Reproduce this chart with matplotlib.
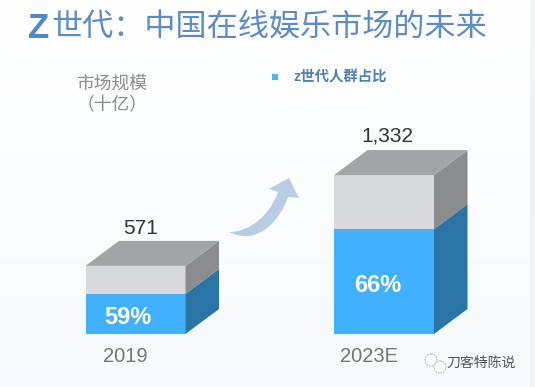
import matplotlib
matplotlib.use('Agg')
import matplotlib.pyplot as plt
import numpy as np
from matplotlib.patches import Polygon, PathPatch, Circle, Rectangle
from matplotlib.path import Path

plt.rcParams['font.family'] = ['Liberation Sans', 'Noto Sans CJK SC', 'DejaVu Sans']

# chart data
years = ['2019', '2023E']
market_size = [571, 1332]
gen_z_share = [59, 66]
size_labels = ['571', '1,332']
share_labels = ['59%', '66%']

W, H = 535, 387
BASE = 334          # pixel row of the bar bottoms
PX_PER_UNIT = 0.1193
bar_left = [85.5, 334]
BAR_W = 100
DX, DY = 33.5, 25 / PX_PER_UNIT

fig = plt.figure(figsize=(W / 100, H / 100), dpi=100)

# background, very pale blue towards the bottom
bg = fig.add_axes([0, 0, 1, 1])
bg.set_xlim(0, W)
bg.set_ylim(H, 0)
bg.axis('off')
grad = np.linspace(0, 1, 64).reshape(-1, 1, 1)
img = np.array([1, 1, 1]) * (1 - grad) + np.array([0.965, 0.98, 0.995]) * grad
bg.imshow(img, extent=[0, W, H, 0], aspect='auto', zorder=0)
bg.add_patch(Rectangle((530, 0), 5, H, color='#f0f2f6', lw=0, zorder=1))

# bars, y axis is in market size units with the base at pixel row 334
ax = fig.add_axes([0, 0, 1, 1])
ax.set_xlim(0, W)
ax.set_ylim(-(H - BASE) / PX_PER_UNIT, BASE / PX_PER_UNIT)
ax.axis('off')
ax.patch.set_alpha(0)

for x, total, share in zip(bar_left, market_size, gen_z_share):
    split = total * share / 100
    ax.bar(x, split, BAR_W, bottom=0, align='edge', color='#40b0ff', lw=0)
    ax.bar(x, total - split, BAR_W, bottom=split, align='edge', color='#d8d9dd', lw=0)
    r = x + BAR_W
    ax.add_patch(Polygon([(r, 0), (r + DX, DY), (r + DX, split + DY), (r, split)], color='#2b74a6', lw=0))
    ax.add_patch(Polygon([(r, split), (r + DX, split + DY), (r + DX, total + DY), (r, total)], color='#8a8c8e', lw=0))
    ax.add_patch(Polygon([(x, total), (x + DX, total + DY), (r + DX, total + DY), (r, total)], color='#a2a5a7', lw=0))

# text and decoration in pixel coordinates
px = fig.add_axes([0, 0, 1, 1])
px.set_xlim(0, W)
px.set_ylim(H, 0)
px.axis('off')
px.patch.set_alpha(0)

BLUE = '#5b8bc9'
px.text(28, 28, 'Z', fontsize=25, fontweight='bold', color='#4f86d0', ha='left', va='center')
px.text(51, 28, '世代：中国在线娱乐市场的未来', fontsize=22.4, color=BLUE, ha='left', va='center',
        family=['Noto Sans CJK SC'])
px.text(112, 84, '市场规模', fontsize=12.8, color='#8c8c8c', ha='center', va='center')
px.text(112, 106, '（十亿）', fontsize=12.8, color='#8c8c8c', ha='center', va='center')
px.add_patch(Rectangle((272, 74), 5.5, 5.5, color='#45b8f5', lw=0))
px.text(293, 77, 'z世代人群占比', fontsize=10.4, fontweight='bold', color='#4f7fb8', ha='left', va='center')

label_x = [141, 387]
label_y = [228, 136]
share_x = [128, 378]
share_y = [318, 286]
year_x = [125, 369]
for i in range(2):
    px.text(label_x[i], label_y[i], size_labels[i], fontsize=15, color='#333333', ha='center', va='center')
    px.text(share_x[i], share_y[i], share_labels[i], fontsize=17, fontweight='bold', color='white', ha='center', va='center')
    px.text(year_x[i], 356, years[i], fontsize=14.5, color='#757575', ha='center', va='center')

# curved arrow between the bars
verts = [(229, 232), (250, 232), (270, 215), (278, 192), (269, 189), (289, 178), (299, 198), (288, 197),
         (278, 225), (255, 245), (229, 232)]
codes = [Path.MOVETO, Path.CURVE4, Path.CURVE4, Path.CURVE4, Path.LINETO, Path.LINETO, Path.LINETO, Path.LINETO,
         Path.CURVE4, Path.CURVE4, Path.CURVE4]
px.add_patch(PathPatch(Path(verts, codes), facecolor='#b8cce4', lw=0))

# watermark
px.add_patch(Circle((431, 360), 6, fc='none', ec='#b5b5b5', lw=0.8, ls=(0, (1.5, 1))))
px.add_patch(Circle((440, 367), 6, fc='white', ec='#b5b5b5', lw=0.8, ls=(0, (1.5, 1))))
px.text(481, 363, '刀客特陈说', fontsize=10, color='#555555', ha='center', va='center')

fig.savefig('out.png', dpi=100)
